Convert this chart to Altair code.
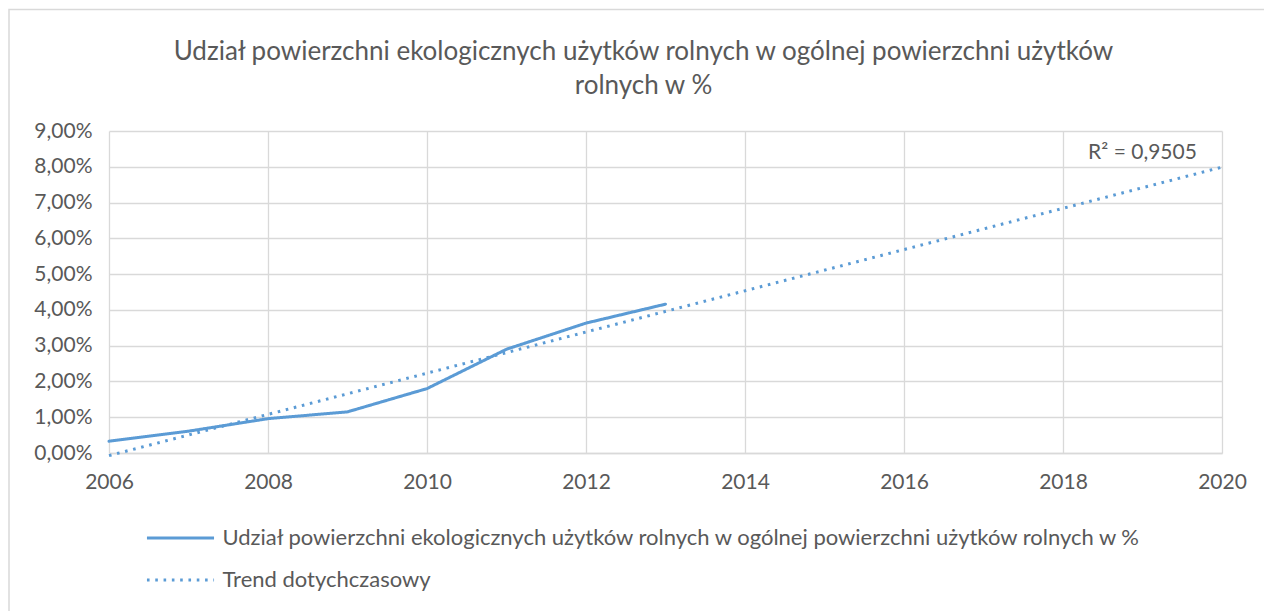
import altair as alt
import pandas as pd

# Share of organic farmland in total agricultural land (%)
years = [2006, 2007, 2008, 2009, 2010, 2011, 2012, 2013]
shares = [0.33, 0.61, 0.96, 1.15, 1.80, 2.90, 3.63, 4.16]

series_main = "Udział powierzchni ekologicznych użytków rolnych w ogólnej powierzchni użytków rolnych w %"
series_trend = "Trend dotychczasowy"
r2_label = "R² = 0,9505"

title_lines = [
    "Udział powierzchni ekologicznych użytków rolnych w ogólnej powierzchni użytków",
    "rolnych w %",
]

BLUE = "#5B9BD5"
GREY = "#D9D9D9"
TEXT = "#595959"
FONT = "Lato"
FS = 21

df = pd.DataFrame({"year": years, "value": shares})

W, H = 1113, 322
PAD_L, PAD_T = 109, 131

x_enc = alt.X(
    "year:Q",
    scale=alt.Scale(domain=[2006, 2020], nice=False, zero=False),
    axis=alt.Axis(
        values=list(range(2006, 2021, 2)),
        format="d",
        title=None,
        ticks=False,
        labelPadding=18,
        labelFlush=False,
        labelOverlap=False,
        grid=True,
    ),
)
y_enc = alt.Y(
    "value:Q",
    scale=alt.Scale(domain=[0, 9], nice=False),
    axis=alt.Axis(
        values=list(range(0, 10)),
        labelExpr="replace(format(datum.value, '.2f'), '.', ',') + '%'",
        title=None,
        ticks=False,
        domain=False,
        labelPadding=17,
        labelOverlap=False,
        grid=True,
    ),
)

dash_scale = alt.Scale(
    domain=[series_main, series_trend],
    range=[[1, 0], [2.6, 5.7]],
)
dash_legend = alt.Legend(
    title=None,
    orient="none",
    legendX=58.5,
    legendY=394,
    direction="vertical",
    symbolType="M-3,0H3",
    symbolSize=500,
    symbolStrokeWidth=3,
    symbolStrokeColor=BLUE,
    symbolFillColor="transparent",
    labelFontSize=22,
    labelFont=FONT,
    labelColor=TEXT,
    labelLimit=2000,
    labelOffset=29,
    rowPadding=18,
    padding=0,
)

base = alt.Chart(df)

# outer chart border (top and left edges fall inside the canvas)
frame = alt.Chart(pd.DataFrame({"k": [0]})).mark_rect(
    fill=None, stroke=GREY, strokeWidth=1.5
).encode(
    x=alt.value(9 - PAD_L),
    x2=alt.value(1400),
    y=alt.value(9.5 - PAD_T),
    y2=alt.value(800),
)

main_line = base.transform_calculate(series=f"'{series_main}'").mark_line(
    color=BLUE, strokeWidth=3, strokeCap="round", strokeJoin="round"
).encode(
    x=x_enc,
    y=y_enc,
    strokeDash=alt.StrokeDash("series:N", scale=dash_scale, legend=dash_legend),
)

trend_line = base.transform_regression(
    "year", "value", method="linear", extent=[2006, 2020]
).transform_calculate(series=f"'{series_trend}'").mark_line(
    color=BLUE, strokeWidth=3
).encode(
    x=x_enc,
    y=y_enc,
    strokeDash=alt.StrokeDash("series:N", scale=dash_scale, legend=dash_legend),
)

r2_text = alt.Chart(pd.DataFrame({"year": [2019.0], "value": [8.38], "t": [r2_label]})).mark_text(
    font=FONT, fontSize=FS, color=TEXT, align="center", baseline="middle"
).encode(x=x_enc, y=y_enc, text="t:N")

chart = alt.layer(frame, trend_line, main_line, r2_text).properties(
    width=W,
    height=H,
    title=alt.TitleParams(
        text=title_lines,
        font=FONT,
        fontSize=26,
        fontWeight="normal",
        color=TEXT,
        anchor="middle",
        frame="group",
        dx=-22,
        offset=-90,
        lineHeight=34,
    ),
    padding={"left": PAD_L, "top": PAD_T, "right": 1264 - PAD_L - W, "bottom": 611 - PAD_T - H},
    autosize=alt.AutoSizeParams(type="none"),
    background="white",
).configure_axis(
    gridColor=GREY,
    gridWidth=1.3,
    domainColor=GREY,
    domainWidth=1.3,
    labelFont=FONT,
    labelFontSize=FS,
    labelColor=TEXT,
).configure_view(stroke=None)

chart.save("out.html", embed_options={"renderer": "svg", "actions": False})
